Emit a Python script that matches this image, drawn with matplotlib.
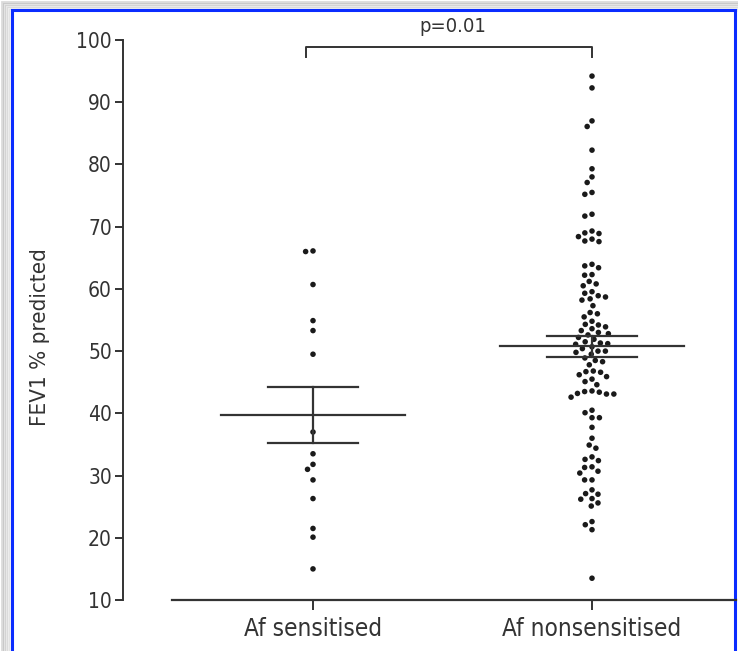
import matplotlib
matplotlib.use('Agg')
import matplotlib.pyplot as plt
import numpy as np
from matplotlib.patches import Rectangle

# ---- data ----
categories = ["Af sensitised", "Af nonsensitised"]
sensitised = [66.1, 66.0, 60.7, 54.9, 53.3, 49.5, 37.0, 33.5, 31.8, 31.0,
              29.3, 26.3, 21.5, 20.1, 15.0]
nonsensitised = [94.2, 92.3, 87.0, 86.1,
                 82.3, 79.3, 78.0, 77.1, 75.5, 75.2, 72.0, 71.7,
                 69.3, 69.0, 68.9, 68.4, 68.0, 67.7, 67.6,
                 63.95, 63.7, 63.4, 62.3, 62.2, 61.2, 60.8, 60.5,
                 59.55, 59.3, 58.9, 58.7, 58.4, 58.2, 57.3,
                 56.2, 56.0, 55.5,
                 54.8, 54.3, 54.2, 53.9, 53.6, 53.3,
                 53.0, 52.8, 52.6, 52.2, 51.9,
                 51.5, 51.2, 51.1, 51.3, 50.7, 50.4, 50.0, 50.0, 49.8,
                 49.5, 48.9, 48.5, 48.3,
                 47.8,
                 46.8, 46.7, 46.6, 46.2, 45.9, 45.5, 45.1, 44.6,
                 43.5, 43.4, 43.1, 42.6, 43.1, 43.2, 43.6,
                 40.5, 40.1, 39.3, 39.3,
                 37.75, 36.0, 34.9, 34.4,
                 33.0, 32.4, 32.6,
                 31.4, 31.3, 30.7, 30.4,
                 29.3, 29.3,
                 27.7, 27.1, 27.0,
                 26.3, 26.2, 25.6, 25.1,
                 22.6, 22.1, 21.3,
                 13.5]
yticks = [10, 20, 30, 40, 50, 60, 70, 80, 90, 100]
p_text = "p=0.01"

W, H = 738, 651
fig = plt.figure(figsize=(W / 100, H / 100), dpi=100)
fig.patch.set_facecolor('white')

ax_l, ax_r, ax_b, ax_t = 123, 736, 600, 40
ax = fig.add_axes([ax_l / W, (H - ax_b) / H, (ax_r - ax_l) / W, (ax_b - ax_t) / H])
ax.set_facecolor('none')
ax.set_ylim(10, 100)
px_per_unit_x = 279.0
x0 = (313 - ax_l) / px_per_unit_x
ax.set_xlim(-x0, -x0 + (ax_r - ax_l) / px_per_unit_x)
px_per_unit_y = (ax_b - ax_t) / 90.0

dark = '#333333'
fam = ['DejaVu Sans']
stretch = 'condensed'


def swarm(vals, d=7.4):
    ys = np.asarray(vals, dtype=float) * px_per_unit_y
    xs = np.zeros(len(ys))
    placed = []
    order = np.argsort(-ys, kind='stable')
    for i in order:
        y = ys[i]
        near = [(px, py) for px, py in placed if abs(py - y) < d]
        cands = [0.0]
        for px, py in near:
            dx = np.sqrt(d * d - (py - y) ** 2)
            cands += [px - dx, px + dx]
        cands.sort(key=lambda c: (abs(c), c))
        best = 0.0
        for c in cands:
            if all((c - px) ** 2 + (y - py) ** 2 >= d * d - 1e-6 for px, py in near):
                best = c
                break
        xs[i] = best
        placed.append((best, y))
    return xs / px_per_unit_x


groups = [sensitised, nonsensitised]
for gi, vals in enumerate(groups):
    v = np.asarray(vals)
    off = swarm(v)
    ax.scatter(gi + off, v, s=16, color='#1a1a1a', edgecolors='none', zorder=3)
    m = v.mean()
    sem = v.std(ddof=1) / np.sqrt(len(v))
    ax.plot([gi - 0.33, gi + 0.33], [m, m], color=dark, lw=1.6, zorder=4)
    ax.plot([gi - 0.163, gi + 0.163], [m + sem, m + sem], color=dark, lw=1.6, zorder=4)
    ax.plot([gi - 0.163, gi + 0.163], [m - sem, m - sem], color=dark, lw=1.6, zorder=4)
    ax.plot([gi, gi], [m - sem, m + sem], color=dark, lw=1.6, zorder=4)

# significance bracket
ax.plot([-0.025, -0.025, 1.0, 1.0], [97.3, 98.9, 98.9, 97.3], color=dark, lw=1.4,
        clip_on=False)
ax.text(0.5, 102.1, p_text, ha='center', va='center', fontsize=14.5, color=dark,
        family=fam, stretch=stretch, clip_on=False)

# spines
for s in ['top', 'right']:
    ax.spines[s].set_visible(False)
ax.spines['left'].set_color(dark)
ax.spines['left'].set_linewidth(1.4)
ax.spines['bottom'].set_color(dark)
ax.spines['bottom'].set_linewidth(1.6)
ax.spines['bottom'].set_bounds((172 - 313) / px_per_unit_x, ax.get_xlim()[1])
ax.set_yticks(yticks)
ax.set_xticks([0, 1])
ax.set_xticklabels(categories)
ax.tick_params(axis='y', length=6, width=1.4, color=dark, labelcolor=dark, pad=2,
               labelsize=15)
ax.tick_params(axis='x', length=7, width=1.4, color=dark, labelcolor=dark, pad=5,
               labelsize=17.5)
for lab in ax.get_xticklabels() + ax.get_yticklabels():
    lab.set_family(fam)
    lab.set_stretch(stretch)
ax.set_ylabel("FEV1 % predicted", fontsize=16, color=dark, family=fam,
              stretch=stretch, va='center')
ax.yaxis.set_label_coords((40 - ax_l) / (ax_r - ax_l), 0.47)

# frame with shadow (top and left)
for k, a in enumerate([0.05, 0.07, 0.09, 0.11, 0.14]):
    o = 10 - 2 * k
    fig.add_artist(Rectangle((o / W, -0.1), 1.2, (H - o) / H + 0.1,
                             transform=fig.transFigure, fill=False,
                             edgecolor='black', alpha=a, lw=2, zorder=-3))
fig.add_artist(Rectangle((12 / W, -0.1), (735 - 12) / W, (H - 10) / H + 0.1,
                         transform=fig.transFigure, fill=True, facecolor='white',
                         edgecolor='#0a2cff', lw=2.2, zorder=-1))

fig.savefig('out.png', dpi=100, facecolor='white')
